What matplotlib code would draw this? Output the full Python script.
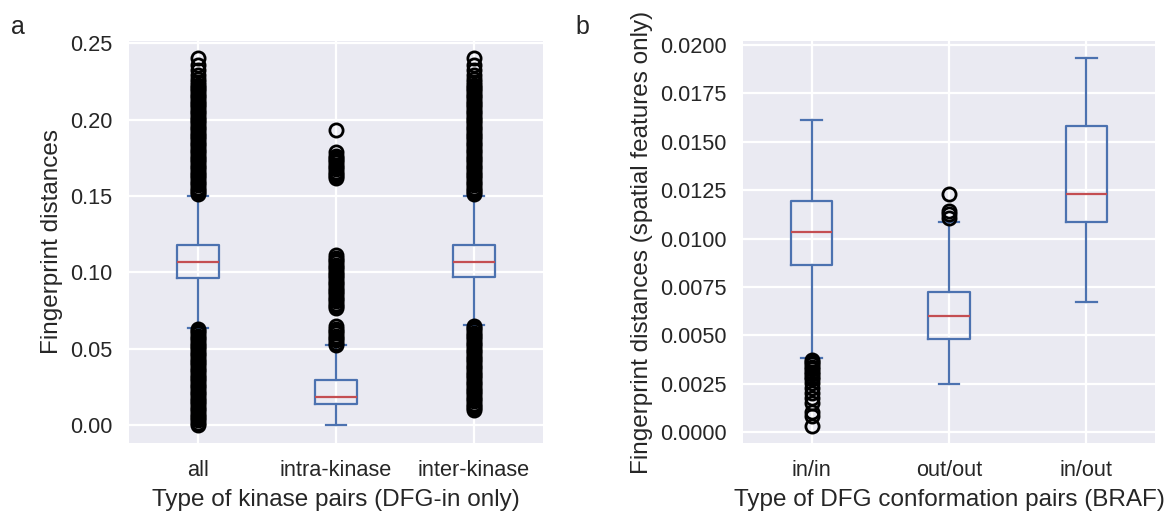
import matplotlib
matplotlib.use("Agg")
import matplotlib.pyplot as plt
from matplotlib.ticker import FormatStrFormatter

# ---------------- data ----------------
# Panel a: fingerprint distances, DFG-in only
cats_a = ["all", "intra-kinase", "inter-kinase"]
whislo_a = [0.0637, 0.0000, 0.0655]
q1_a = [0.0965, 0.0136, 0.0972]
med_a = [0.1066, 0.0182, 0.1070]
q3_a = [0.1179, 0.0292, 0.1180]
whishi_a = [0.1502, 0.0522, 0.1502]

fliers_all = [
    0.0000, 0.0015, 0.0030, 0.0045, 0.0060, 0.0075, 0.0090, 0.0105, 0.0120,
    0.0135, 0.0150, 0.0165, 0.0180, 0.0195, 0.0210, 0.0225, 0.0240, 0.0255,
    0.0270, 0.0285, 0.0300, 0.0315, 0.0330, 0.0345, 0.0360, 0.0375, 0.0390,
    0.0405, 0.0420, 0.0435, 0.0450, 0.0465, 0.0480, 0.0495, 0.0510, 0.0525,
    0.0540, 0.0555, 0.0570, 0.0585, 0.0600, 0.0615, 0.0630,
    0.1510, 0.1525, 0.1540, 0.1555, 0.1570, 0.1585, 0.1600, 0.1615, 0.1630,
    0.1645, 0.1660, 0.1675, 0.1690, 0.1705, 0.1720, 0.1735, 0.1750, 0.1765,
    0.1780, 0.1795, 0.1810, 0.1825, 0.1840, 0.1855, 0.1870, 0.1885, 0.1900,
    0.1915, 0.1930, 0.1945, 0.1960, 0.1975, 0.1990, 0.2005, 0.2020, 0.2035,
    0.2050, 0.2065, 0.2080, 0.2095, 0.2110, 0.2125, 0.2140, 0.2155, 0.2170,
    0.2185, 0.2200, 0.2215, 0.2230, 0.2245, 0.2265, 0.2290, 0.2325, 0.2355,
    0.2405,
]
fliers_intra = [
    0.0525, 0.0540, 0.0555, 0.0570, 0.0585, 0.0600, 0.0615, 0.0630, 0.0650,
    0.0765, 0.0780, 0.0795, 0.0810, 0.0825, 0.0840, 0.0855, 0.0870, 0.0885,
    0.0900, 0.0915, 0.0930, 0.0945, 0.0960, 0.0975, 0.0990, 0.1005, 0.1020,
    0.1035, 0.1050, 0.1065, 0.1080, 0.1095, 0.1115,
    0.1617, 0.1630, 0.1645, 0.1660, 0.1675, 0.1690, 0.1705, 0.1720, 0.1735,
    0.1750, 0.1765, 0.1785,
    0.1929,
]
fliers_inter = [
    0.0097, 0.0110, 0.0125, 0.0140, 0.0155, 0.0170, 0.0185, 0.0200, 0.0215,
    0.0230, 0.0245, 0.0260, 0.0275, 0.0290, 0.0305, 0.0320, 0.0335, 0.0350,
    0.0365, 0.0380, 0.0395, 0.0410, 0.0425, 0.0440, 0.0455, 0.0470, 0.0485,
    0.0500, 0.0515, 0.0530, 0.0545, 0.0560, 0.0575, 0.0590, 0.0605, 0.0620,
    0.0635, 0.0650,
    0.1510, 0.1525, 0.1540, 0.1555, 0.1570, 0.1585, 0.1600, 0.1615, 0.1630,
    0.1645, 0.1660, 0.1675, 0.1690, 0.1705, 0.1720, 0.1735, 0.1750, 0.1765,
    0.1780, 0.1795, 0.1810, 0.1825, 0.1840, 0.1855, 0.1870, 0.1885, 0.1900,
    0.1915, 0.1930, 0.1945, 0.1960, 0.1975, 0.1990, 0.2005, 0.2020, 0.2035,
    0.2050, 0.2065, 0.2080, 0.2095, 0.2110, 0.2125, 0.2140, 0.2155, 0.2170,
    0.2185, 0.2200, 0.2215, 0.2230, 0.2245, 0.2265, 0.2290, 0.2325, 0.2355,
    0.2405,
]
fliers_a = [fliers_all, fliers_intra, fliers_inter]

# Panel b: spatial-feature fingerprint distances, BRAF
cats_b = ["in/in", "out/out", "in/out"]
whislo_b = [0.00381, 0.00248, 0.00670]
q1_b = [0.00864, 0.00481, 0.01083]
med_b = [0.01035, 0.00598, 0.01228]
q3_b = [0.01193, 0.00726, 0.01583]
whishi_b = [0.01610, 0.01085, 0.01930]
fliers_b = [
    [0.00033, 0.00084, 0.00107, 0.00150, 0.00176, 0.00202, 0.00228, 0.00253,
     0.00274, 0.00288, 0.00300, 0.00312, 0.00325, 0.00338, 0.00350, 0.00362,
     0.00374],
    [0.01107, 0.01124, 0.01141, 0.01228],
    [],
]

yticks_a = [0.00, 0.05, 0.10, 0.15, 0.20, 0.25]
yticks_b = [0.0000, 0.0025, 0.0050, 0.0075, 0.0100, 0.0125, 0.0150, 0.0175, 0.0200]

# ---------------- style ----------------
BLUE = "#4C72B0"
RED = "#C44E52"
TXT = "#262626"
plt.rcParams["font.family"] = ["Liberation Sans", "DejaVu Sans"]
plt.rcParams["text.color"] = TXT
plt.rcParams["axes.labelcolor"] = TXT
plt.rcParams["xtick.color"] = TXT
plt.rcParams["ytick.color"] = TXT

fig = plt.figure(figsize=(11.67, 5.14), dpi=100)
ax_a = fig.add_axes([129 / 1167, 71 / 514, 414 / 1167, 402 / 514])
ax_b = fig.add_axes([743 / 1167, 71 / 514, 412 / 1167, 402 / 514])


def make_stats(labels, lo, q1, med, q3, hi, fl):
    return [
        dict(label=labels[i], whislo=lo[i], q1=q1[i], med=med[i], q3=q3[i],
             whishi=hi[i], fliers=fl[i])
        for i in range(len(labels))
    ]


def draw(ax, stats):
    ax.set_facecolor("#EAEAF2")
    for s in ax.spines.values():
        s.set_visible(False)
    ax.grid(True, color="white", linewidth=1.6, zorder=0)
    ax.set_axisbelow(True)
    ax.bxp(
        stats,
        positions=[1, 2, 3],
        widths=0.3,
        boxprops=dict(color=BLUE, linewidth=1.6),
        whiskerprops=dict(color=BLUE, linewidth=1.6),
        capprops=dict(color=BLUE, linewidth=1.6),
        medianprops=dict(color=RED, linewidth=1.6),
        flierprops=dict(marker="o", markerfacecolor="none",
                        markeredgecolor="black", markersize=9.5,
                        markeredgewidth=2.0, linestyle="none"),
        manage_ticks=False,
    )
    ax.set_xticks([1, 2, 3])
    ax.set_xlim(0.5, 3.5)
    ax.tick_params(axis="x", length=0, pad=12, labelsize=15.7)
    ax.tick_params(axis="y", length=0, pad=12, labelsize=15.7)


draw(ax_a, make_stats(cats_a, whislo_a, q1_a, med_a, q3_a, whishi_a, fliers_a))
ax_a.set_xticklabels(cats_a)
ax_a.set_yticks(yticks_a)
ax_a.set_ylim(-0.0118, 0.2515)
ax_a.yaxis.set_major_formatter(FormatStrFormatter("%.2f"))
ax_a.set_xlabel("Type of kinase pairs (DFG-in only)", fontsize=17.5, labelpad=6)
ax_a.set_ylabel("Fingerprint distances", fontsize=17.5, labelpad=5)

draw(ax_b, make_stats(cats_b, whislo_b, q1_b, med_b, q3_b, whishi_b, fliers_b))
ax_b.set_xticklabels(cats_b)
ax_b.set_yticks(yticks_b)
ax_b.set_ylim(-0.00055, 0.02019)
ax_b.yaxis.set_major_formatter(FormatStrFormatter("%.4f"))
ax_b.set_xlabel("Type of DFG conformation pairs (BRAF)", fontsize=17.5, labelpad=6)
ax_b.set_ylabel("Fingerprint distances (spatial features only)", fontsize=17.5,
                labelpad=5)

fig.text(11 / 1167, 1 - 34 / 514, "a", fontsize=18, ha="left", va="baseline")
fig.text(575 / 1167, 1 - 34 / 514, "b", fontsize=18, ha="left", va="baseline")

fig.savefig("out.png", dpi=100, facecolor="white")
